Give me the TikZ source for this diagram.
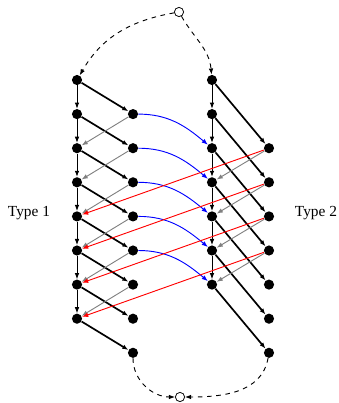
\documentclass[tikz,border=0pt]{standalone}
\usepackage{fontspec}
\setmainfont{Liberation Serif}
\usetikzlibrary{arrows.meta}
\begin{document}
\begin{tikzpicture}[x=0.65pt,y=-0.65pt,
  dot/.style={circle,fill=black,inner sep=0pt,minimum size=6.6pt},
  hole/.style={circle,draw=black,fill=white,line width=0.5pt,inner sep=0pt,minimum size=6pt},
  tip/.style={-{Latex[length=4pt,width=3pt]}},
  vert/.style={tip,line width=0.6pt},
  diag/.style={tip,line width=1.1pt},
  back/.style={tip,line width=0.6pt,draw=gray},
  cross/.style={tip,line width=0.6pt,draw=blue,-{Latex[length=4pt,width=3pt,color=blue]}},
  ret/.style={line width=0.6pt,draw=red,-{Latex[length=4pt,width=3pt,color=red]}},
  loop/.style={tip,line width=0.6pt,dashed},
  lbl/.style={font=\fontsize{10}{12}\selectfont}]
\useasboundingbox (0,0) rectangle (339,403);
\foreach \r in {0,...,7} \node[dot] (a\r) at (77,{80+34.1*\r}) {};
\foreach \r in {1,...,8} \node[dot] (b\r) at (133,{80+34.1*\r}) {};
\foreach \r in {0,...,6} \node[dot] (c\r) at (212,{80+34.1*\r}) {};
\foreach \r in {2,...,8} \node[dot] (d\r) at (269,{80+34.1*\r}) {};
\node[hole] (top) at (179,12) {};
\node[hole] (bot) at (180,397) {};
\node[lbl] (t1) at (29,213) {Type 1};
\node[lbl] (t2) at (316,213) {Type 2};
% left structure
\foreach \r [count=\n from 1] in {0,...,6} \draw[vert] (a\r) -- (a\n);
\foreach \r [count=\n from 1] in {0,...,7} \draw[diag] (a\r) -- (b\n);
\foreach \r [count=\n from 2] in {1,...,6} \draw[back] (b\r) -- (a\n);
% right structure
\foreach \r [count=\n from 1] in {0,...,5} \draw[vert] (c\r) -- (c\n);
\foreach \r [count=\n from 2] in {0,...,6} \draw[diag] (c\r) -- (d\n);
\foreach \r [count=\n from 3] in {2,...,5} \draw[back] (d\r) -- (c\n);
% blue crossings
\foreach \r [count=\n from 2] in {1,...,5} \draw[cross] (b\r) to[out=0,in=140] (c\n);
% red returns
\foreach \r [count=\n from 4] in {2,...,5} \draw[ret] (d\r) -- (a\n);
% dashed loops
\draw[loop] (top) to[out=190,in=60] (a0);
\draw[loop] (top) to[out=-60,in=95] (c0);
\draw[loop] (b8) to[out=-90,in=180] (bot);
\draw[loop] (d8) to[out=-100,in=0] (bot);
\end{tikzpicture}
\end{document}
